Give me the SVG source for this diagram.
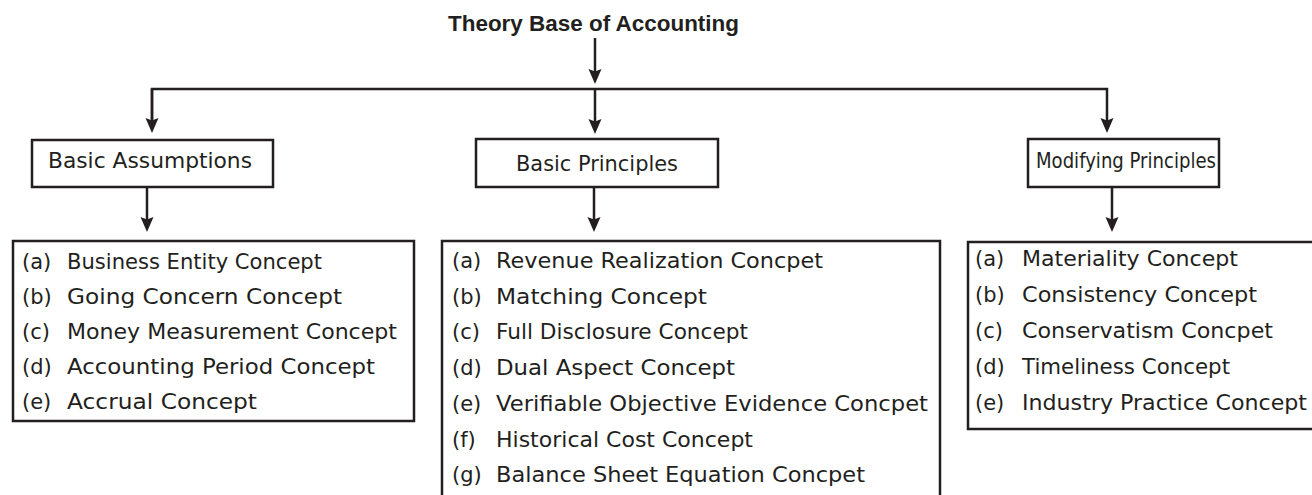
<svg xmlns="http://www.w3.org/2000/svg" width="1312" height="495" viewBox="0 0 1312 495">
<defs>
<style>
.box{fill:#fff;stroke:#231f20;stroke-width:2.5}
.ln{fill:none;stroke:#231f20;stroke-width:2.5}
.t{font-family:"DejaVu Sans",sans-serif;font-size:21px;fill:#231f20}
.h{font-family:"DejaVu Sans",sans-serif;font-size:22px;fill:#231f20}
.title{font-family:"Liberation Sans",Arial,sans-serif;font-size:22px;font-weight:bold;fill:#231f20}
</style>
<marker id="arr" markerUnits="userSpaceOnUse" markerWidth="16" markerHeight="14" refX="5" refY="7" orient="auto" viewBox="0 0 16 14">
<path d="M0,0.5 L15,7 L0,13.5 L2.5,7 Z" fill="#231f20"/>
</marker>
</defs>
<rect width="1312" height="495" fill="#fff"/>

<g id="title">
<text class="title" x="448" y="31" textLength="291" lengthAdjust="spacingAndGlyphs">Theory Base of Accounting</text>
</g>

<g id="connectors">
<line class="ln" x1="595" y1="38" x2="595" y2="74" marker-end="url(#arr)"/>
<polyline class="ln" points="152,123 152,89 1107,89 1107,123" marker-end="url(#arr)"/>
<line class="ln" x1="152" y1="89" x2="152" y2="123" marker-end="url(#arr)"/>
<line class="ln" x1="595" y1="88" x2="595" y2="124" marker-end="url(#arr)"/>
<line class="ln" x1="147" y1="187" x2="147" y2="222" marker-end="url(#arr)"/>
<line class="ln" x1="594" y1="187" x2="594" y2="222" marker-end="url(#arr)"/>
<line class="ln" x1="1112" y1="187" x2="1112" y2="222" marker-end="url(#arr)"/>
</g>

<g id="basic-assumptions">
<rect class="box" x="32" y="140" width="241" height="47"/>
<text class="h" x="48" y="168" textLength="204" lengthAdjust="spacingAndGlyphs">Basic Assumptions</text>
</g>

<g id="basic-principles">
<rect class="box" x="476" y="139" width="242" height="48"/>
<text class="h" x="516" y="171" textLength="162" lengthAdjust="spacingAndGlyphs">Basic Principles</text>
</g>

<g id="modifying-principles">
<rect class="box" x="1028" y="139" width="191" height="48"/>
<text class="h" x="1036" y="168" font-size="18.5" textLength="180" lengthAdjust="spacingAndGlyphs">Modifying Principles</text>
</g>

<g id="assumptions-list">
<rect class="box" x="13" y="241" width="401" height="180"/>
<text class="t" x="22" y="269">(a)</text>
<text class="t" x="67" y="269" textLength="255" lengthAdjust="spacingAndGlyphs">Business Entity Concept</text>
<text class="t" x="22" y="304">(b)</text>
<text class="t" x="67" y="304" textLength="275" lengthAdjust="spacingAndGlyphs">Going Concern Concept</text>
<text class="t" x="22" y="339">(c)</text>
<text class="t" x="67" y="339" textLength="330" lengthAdjust="spacingAndGlyphs">Money Measurement Concept</text>
<text class="t" x="22" y="374">(d)</text>
<text class="t" x="67" y="374" textLength="308" lengthAdjust="spacingAndGlyphs">Accounting Period Concept</text>
<text class="t" x="22" y="409">(e)</text>
<text class="t" x="67" y="409" textLength="190" lengthAdjust="spacingAndGlyphs">Accrual Concept</text>
</g>

<g id="principles-list">
<rect class="box" x="442" y="241" width="498" height="270"/>
<text class="t" x="452" y="268">(a)</text>
<text class="t" x="496" y="268" textLength="327" lengthAdjust="spacingAndGlyphs">Revenue Realization Concpet</text>
<text class="t" x="452" y="303.7">(b)</text>
<text class="t" x="496" y="303.7" textLength="211" lengthAdjust="spacingAndGlyphs">Matching Concept</text>
<text class="t" x="452" y="339.4">(c)</text>
<text class="t" x="496" y="339.4" textLength="252" lengthAdjust="spacingAndGlyphs">Full Disclosure Concept</text>
<text class="t" x="452" y="375.1">(d)</text>
<text class="t" x="496" y="375.1" textLength="239" lengthAdjust="spacingAndGlyphs">Dual Aspect Concept</text>
<text class="t" x="452" y="410.8">(e)</text>
<text class="t" x="496" y="410.8" textLength="432" lengthAdjust="spacingAndGlyphs">Verifiable Objective Evidence Concpet</text>
<text class="t" x="452" y="446.5">(f)</text>
<text class="t" x="496" y="446.5" textLength="257" lengthAdjust="spacingAndGlyphs">Historical Cost Concept</text>
<text class="t" x="452" y="482.2">(g)</text>
<text class="t" x="496" y="482.2" textLength="369" lengthAdjust="spacingAndGlyphs">Balance Sheet Equation Concpet</text>
</g>

<g id="modifying-list">
<rect class="box" x="968" y="242" width="360" height="187"/>
<text class="t" x="975" y="266">(a)</text>
<text class="t" x="1022" y="266" textLength="216" lengthAdjust="spacingAndGlyphs">Materiality Concept</text>
<text class="t" x="975" y="302">(b)</text>
<text class="t" x="1022" y="302" textLength="235" lengthAdjust="spacingAndGlyphs">Consistency Concept</text>
<text class="t" x="975" y="338">(c)</text>
<text class="t" x="1022" y="338" textLength="251" lengthAdjust="spacingAndGlyphs">Conservatism Concpet</text>
<text class="t" x="975" y="374">(d)</text>
<text class="t" x="1022" y="374" textLength="208" lengthAdjust="spacingAndGlyphs">Timeliness Concept</text>
<text class="t" x="975" y="410">(e)</text>
<text class="t" x="1022" y="410" textLength="285" lengthAdjust="spacingAndGlyphs">Industry Practice Concept</text>
</g>
</svg>
